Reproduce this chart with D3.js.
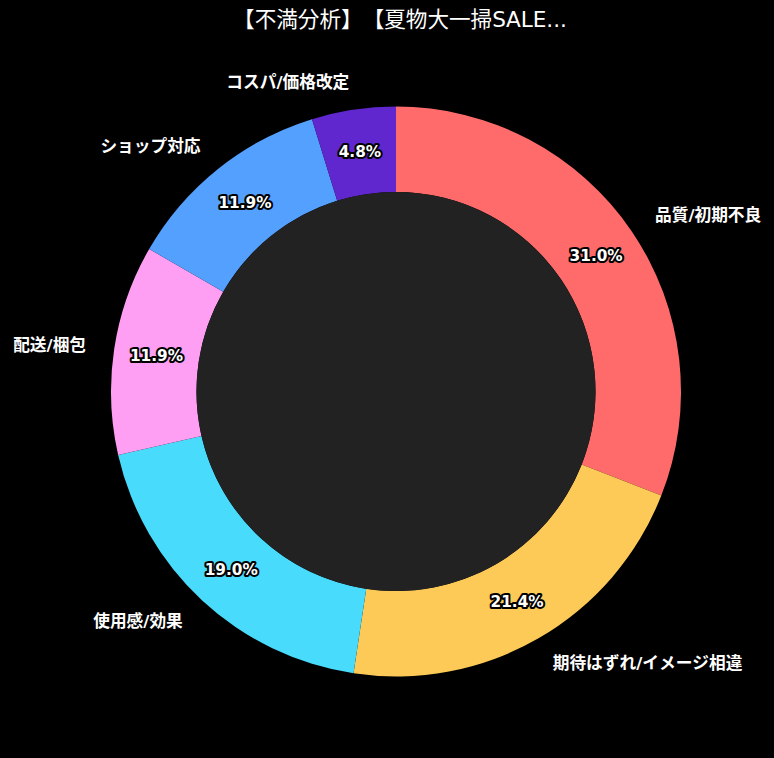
<!DOCTYPE html>
<html><head><meta charset="utf-8">
<script src="https://cdn.jsdelivr.net/npm/d3@7"></script>
<style>html,body{margin:0;padding:0;background:#000;}svg{display:block;}text{text-spacing-trim:space-all;font-kerning:none;}</style>
</head><body>
<script>
const title = "【不満分析】【夏物大一掃SALE...";
const categories = ["品質/初期不良","期待はずれ/イメージ相違","使用感/効果","配送/梱包","ショップ対応","コスパ/価格改定"];
const counts = [13, 9, 8, 5, 5, 2];
const colors = ["#FF6B6B","#FECA57","#48DBFB","#FF9FF3","#54A0FF","#5F27CD"];

const W = 774, H = 758;
const cx = 396, cy = 391.5, R = 285, r0 = R * 0.7;
const FONT = "'DejaVu Sans', 'Noto Sans CJK JP', sans-serif";
const svg = d3.select("body").append("svg").attr("width", W).attr("height", H);
svg.append("rect").attr("width", W).attr("height", H).attr("fill", "#000");

svg.append("text").attr("x", 400).attr("y", 27).attr("text-anchor", "middle")
  .attr("fill", "#fff").attr("font-family", FONT)
  .attr("font-size", 21.6).text(title);

const data = categories.map((c, i) => ({cat: c, v: counts[i], color: colors[i]}));
const total = d3.sum(counts);
const pie = d3.pie().value(d => d.v).sort(null);
const arcs = pie(data);
const arc = d3.arc().innerRadius(r0).outerRadius(R);
const g = svg.append("g").attr("transform", `translate(${cx},${cy})`);

g.selectAll("path.slice").data(arcs).join("path").attr("class", "slice")
  .attr("d", arc).attr("fill", d => d.data.color);

g.append("circle").attr("r", r0).attr("fill", "#222");

const fmt = d3.format(".1f");
g.selectAll("text.pct").data(arcs).join("text").attr("class", "pct")
  .attr("x", d => 0.85 * R * Math.sin((d.startAngle + d.endAngle) / 2))
  .attr("y", d => -0.85 * R * Math.cos((d.startAngle + d.endAngle) / 2))
  .attr("dy", "0.36em").attr("text-anchor", "middle")
  .attr("font-family", FONT).attr("font-weight", "bold")
  .attr("font-size", 15.3).attr("fill", "#fff")
  .attr("stroke", "#000").attr("stroke-width", 4).attr("stroke-linejoin", "round")
  .attr("paint-order", "stroke")
  .text(d => fmt(d.data.v / total * 100) + "%");

g.selectAll("text.lab").data(arcs).join("text").attr("class", "lab")
  .attr("x", d => 1.1 * R * Math.sin((d.startAngle + d.endAngle) / 2))
  .attr("y", d => -1.1 * R * Math.cos((d.startAngle + d.endAngle) / 2))
  .attr("dy", "0.36em")
  .attr("text-anchor", d => Math.sin((d.startAngle + d.endAngle) / 2) >= 0 ? "start" : "end")
  .attr("font-family", FONT).attr("font-weight", "bold")
  .attr("font-size", 16.7).attr("fill", "#fff")
  .text(d => d.data.cat);
</script>
</body></html>
